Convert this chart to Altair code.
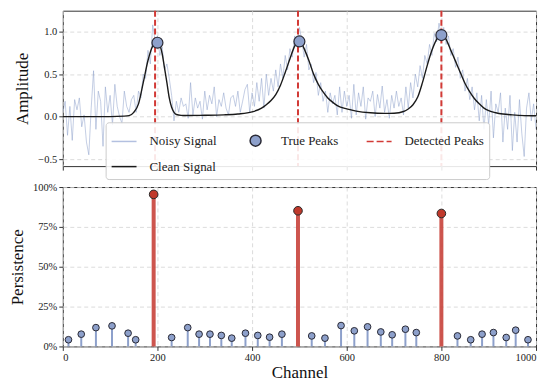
import altair as alt
import pandas as pd

FONT = "Liberation Serif"

# ---------------- data ----------------
noisy_channel = list(range(0, 1001, 5))
noisy_amp = [
    0.05, 0.18, -0.22, 0.12, -0.28, 0.20, 0.08, 0.22, -0.12, 0.02,
    -0.30, -0.45, 0.10, 0.54, -0.15, 0.30, 0.18, -0.35, 0.35, 0.05,
    0.25, -0.10, 0.38, 0.12, 0.00, -0.08, 0.30, 0.12, 0.05, 0.20,
    0.25, 0.05, 0.30, 0.22, 0.50, 0.45, 0.78, 0.62, 1.08, 0.90,
    0.95, 0.72, 0.82, 0.55, 0.62, 0.45, 0.25, -0.05, 0.18, 0.05,
    0.22, 0.12, 0.15, -0.02, 0.40, 0.02, 0.22, 0.10, 0.18, -0.03,
    0.30, 0.08, 0.25, 0.15, 0.35, 0.00, 0.20, 0.12, 0.28, 0.10,
    0.02, 0.22, 0.25, 0.12, 0.30, 0.05, 0.18, 0.32, 0.38, 0.05,
    0.28, 0.12, 0.40, 0.18, 0.45, 0.10, 0.50, 0.25, 0.45, 0.30,
    0.55, 0.35, 0.62, 0.45, 0.72, 0.55, 0.80, 0.70, 0.95, 0.82,
    1.05, 0.90, 0.70, 0.85, 0.55, 0.62, 0.40, 0.52, 0.25, 0.40,
    0.18, 0.30, 0.05, 0.28, 0.15, 0.25, 0.02, 0.35, 0.05, 0.30,
    0.12, 0.25, -0.02, 0.38, 0.02, 0.28, 0.12, 0.35, -0.03, 0.22,
    0.18, 0.30, 0.00, 0.26, 0.10, 0.36, 0.05, 0.20, -0.02, 0.25,
    0.10, 0.30, 0.12, 0.22, 0.02, 0.35, 0.10, 0.40, 0.22, 0.50,
    0.35, 0.60, 0.45, 0.72, 0.62, 0.85, 0.72, 0.98, 0.88, 1.10,
    0.95, 1.05, 0.85, 0.95, 0.72, 0.80, 0.58, 0.70, 0.45, 0.55,
    0.30, 0.45, 0.20, 0.35, 0.08, 0.28, -0.05, 0.25, -0.15, 0.20,
    -0.10, 0.30, -0.25, 0.15, 0.05, 0.28, -0.30, 0.10, -0.15, 0.25,
    -0.40, 0.05, -0.30, 0.20, -0.20, -0.47, 0.10, 0.28, -0.05, 0.15,
    -0.15,
]

clean_channel = [
    0, 50, 100, 130, 140, 150, 160, 170, 180, 190,
    195, 200, 205, 210, 215, 220, 225, 230, 235, 240,
    250, 260, 300, 340, 370, 400, 420, 430, 440, 450,
    460, 470, 480, 490, 495, 500, 505, 510, 520, 530,
    540, 550, 560, 570, 580, 600, 620, 650, 680, 700,
    720, 730, 740, 750, 760, 770, 780, 790, 795, 800,
    805, 810, 820, 830, 840, 850, 860, 870, 880, 890,
    900, 915, 930, 950, 975, 1000,
]
clean_amp = [
    0.0, 0.0, 0.0, 0.005, 0.012, 0.05, 0.15, 0.40, 0.66, 0.83,
    0.86, 0.87, 0.84, 0.74, 0.57, 0.40, 0.22, 0.11, 0.05, 0.025,
    0.015, 0.013, 0.015, 0.02, 0.03, 0.055, 0.10, 0.14, 0.19, 0.26,
    0.37, 0.52, 0.68, 0.83, 0.87, 0.88, 0.86, 0.80, 0.66, 0.50,
    0.38, 0.29, 0.22, 0.17, 0.13, 0.09, 0.065, 0.045, 0.038, 0.04,
    0.06, 0.09, 0.14, 0.23, 0.40, 0.60, 0.78, 0.91, 0.95, 0.96,
    0.95, 0.91, 0.78, 0.65, 0.52, 0.39, 0.29, 0.21, 0.15, 0.10,
    0.07, 0.045, 0.03, 0.02, 0.012, 0.01,
]

true_peak_channel = [200, 500, 800]
true_peak_amp = [0.87, 0.885, 0.96]

detected_channel = [195, 497, 800]

minor_channel = [12, 39, 70, 104, 138, 154, 230, 264, 288, 311, 335, 357, 386,
                 412, 437, 463, 526, 554, 588, 616, 644, 672, 696, 724, 747,
                 834, 862, 886, 910, 937, 957, 983]
minor_persistence = [0.042, 0.077, 0.118, 0.129, 0.083, 0.042, 0.056, 0.118,
                     0.077, 0.077, 0.069, 0.052, 0.083, 0.069, 0.058, 0.077,
                     0.066, 0.052, 0.131, 0.098, 0.123, 0.091, 0.073, 0.108,
                     0.087, 0.066, 0.042, 0.077, 0.087, 0.056, 0.102, 0.042]

major_channel = [192, 497, 800]
major_persistence = [0.954, 0.851, 0.834]

# legend entry order (the legend grid places them so that row 1 reads
# Noisy Signal, True Peaks, Detected Peaks and row 2 Clean Signal)
legend_names = ["Noisy Signal", "Detected Peaks", "True Peaks", "Clean Signal"]
x_ticks = [0, 200, 400, 600, 800, 1000]

# ---------------- tables ----------------
df_noisy = pd.DataFrame({"ch": noisy_channel, "amp": noisy_amp})
df_clean = pd.DataFrame({"ch": clean_channel, "amp": clean_amp})
df_true = pd.DataFrame({"ch": true_peak_channel, "amp": true_peak_amp})
df_det = pd.DataFrame({"ch": detected_channel})
df_minor = pd.DataFrame({"ch": minor_channel, "p": minor_persistence})
df_major = pd.DataFrame({"ch": major_channel, "p": major_persistence})
df_leg = pd.DataFrame({"series": legend_names})

# ---------------- top panel ----------------
x_top = alt.X("ch:Q", scale=alt.Scale(domain=[0, 1000], nice=False),
              axis=alt.Axis(values=x_ticks, labels=False, title=None))
y_top = alt.Y("amp:Q", scale=alt.Scale(domain=[-0.583, 1.247], nice=False, zero=False),
              axis=alt.Axis(values=[-0.5, 0, 0.5, 1.0], format=".1f", title="Amplitude"))

noisy = alt.Chart(df_noisy).mark_line(color="#8da0cb", strokeWidth=0.8, opacity=0.65, clip=True).encode(x=x_top, y=y_top)
clean = alt.Chart(df_clean).mark_line(color="#1a1a1a", strokeWidth=1.4, interpolate="monotone", clip=True).encode(x=x_top, y=y_top)
det = alt.Chart(df_det).mark_rule(color="#d23a36", strokeWidth=2, strokeDash=[6, 3]).encode(x=x_top)
truep = alt.Chart(df_true).mark_point(filled=True, size=121, fill="#8da0cb", stroke="#2a2a35",
                                      strokeWidth=1.2, opacity=1).encode(x=x_top, y=y_top)

line_path = "M-1,0L1,0"
dash_path = "M-1,0L-0.44,0M-0.2,0L0.36,0M0.6,0L1,0"
circ_path = "M-0.44,0A0.44,0.44 0 1,0 0.44,0A0.44,0.44 0 1,0 -0.44,0Z"

symbol_paths = {"Noisy Signal": line_path, "True Peaks": circ_path,
                "Detected Peaks": dash_path, "Clean Signal": line_path}
symbol_strokes = {"Noisy Signal": "#b3c0e0", "True Peaks": "#2a2a35",
                  "Detected Peaks": "#d23a36", "Clean Signal": "#1a1a1a"}
symbol_fills = {"Noisy Signal": "transparent", "True Peaks": "#8da0cb",
                "Detected Peaks": "transparent", "Clean Signal": "transparent"}

leg = alt.Legend(title=None, orient="none", legendX=43, legendY=112, columns=3,
                 columnPadding=25, rowPadding=4, labelFont=FONT, labelFontSize=13,
                 labelColor="#222222", labelOffset=12, padding=5,
                 fillColor="rgba(255,255,255,0.88)", strokeColor="#cccccc",
                 cornerRadius=3, symbolOpacity=1, symbolSize=625, symbolStrokeWidth=1.5)

legend_layer = alt.Chart(df_leg).mark_point(size=625, opacity=1, strokeWidth=1.5).encode(
    shape=alt.Shape("series:N", scale=alt.Scale(domain=legend_names,
                    range=[symbol_paths[n] for n in legend_names]), legend=leg),
    stroke=alt.Stroke("series:N", scale=alt.Scale(domain=legend_names,
                      range=[symbol_strokes[n] for n in legend_names]), legend=leg),
    fill=alt.Fill("series:N", scale=alt.Scale(domain=legend_names,
                  range=[symbol_fills[n] for n in legend_names]), legend=leg),
).transform_filter("false")

top = alt.layer(noisy, clean, det, truep, legend_layer).properties(width=475, height=156)

# ---------------- bottom panel ----------------
x_bot = alt.X("ch:Q", scale=alt.Scale(domain=[0, 1000], nice=False),
              axis=alt.Axis(values=x_ticks, format="d", title="Channel"))
y_bot = alt.Y("p:Q", scale=alt.Scale(domain=[0, 1], nice=False),
              axis=alt.Axis(values=[0, 0.25, 0.5, 0.75, 1.0], format=".0%", title="Persistence"))

stem_minor = alt.Chart(df_minor).mark_rule(color="#8da0cb", strokeWidth=2).encode(x=x_bot, y=y_bot, y2=alt.datum(0))
stem_major = alt.Chart(df_major).mark_rule(color="#c8423b", strokeWidth=4, opacity=0.9).encode(x=x_bot, y=y_bot, y2=alt.datum(0))
pt_minor = alt.Chart(df_minor).mark_point(filled=True, size=45, fill="#8da0cb", stroke="#2a2a35",
                                          strokeWidth=1, opacity=1).encode(x=x_bot, y=y_bot)
pt_major = alt.Chart(df_major).mark_point(filled=True, size=75, fill="#c0392b", stroke="#2a2a2a",
                                          strokeWidth=1, opacity=1).encode(x=x_bot, y=y_bot)

bottom = alt.layer(stem_minor, stem_major, pt_minor, pt_major).properties(width=475, height=160)

chart = alt.vconcat(top, bottom, spacing=10).properties(
    padding={"left": 0, "top": 0, "right": 5, "bottom": 0}
).configure_view(stroke="#333333", strokeWidth=1).configure_axis(
    domain=False, grid=True, gridColor="#d3d3d3", gridDash=[4, 3], gridWidth=0.8,
    tickColor="#333333", tickSize=4, tickWidth=1,
    labelFont=FONT, labelFontSize=10.5, labelColor="#222222", labelPadding=2,
    titleFont=FONT, titleFontSize=17, titleFontWeight="normal", titleColor="#111111",
    titlePadding=6,
).configure_axisX(titlePadding=2)

chart.save("out.html", embed_options={"renderer": "svg", "actions": False})
